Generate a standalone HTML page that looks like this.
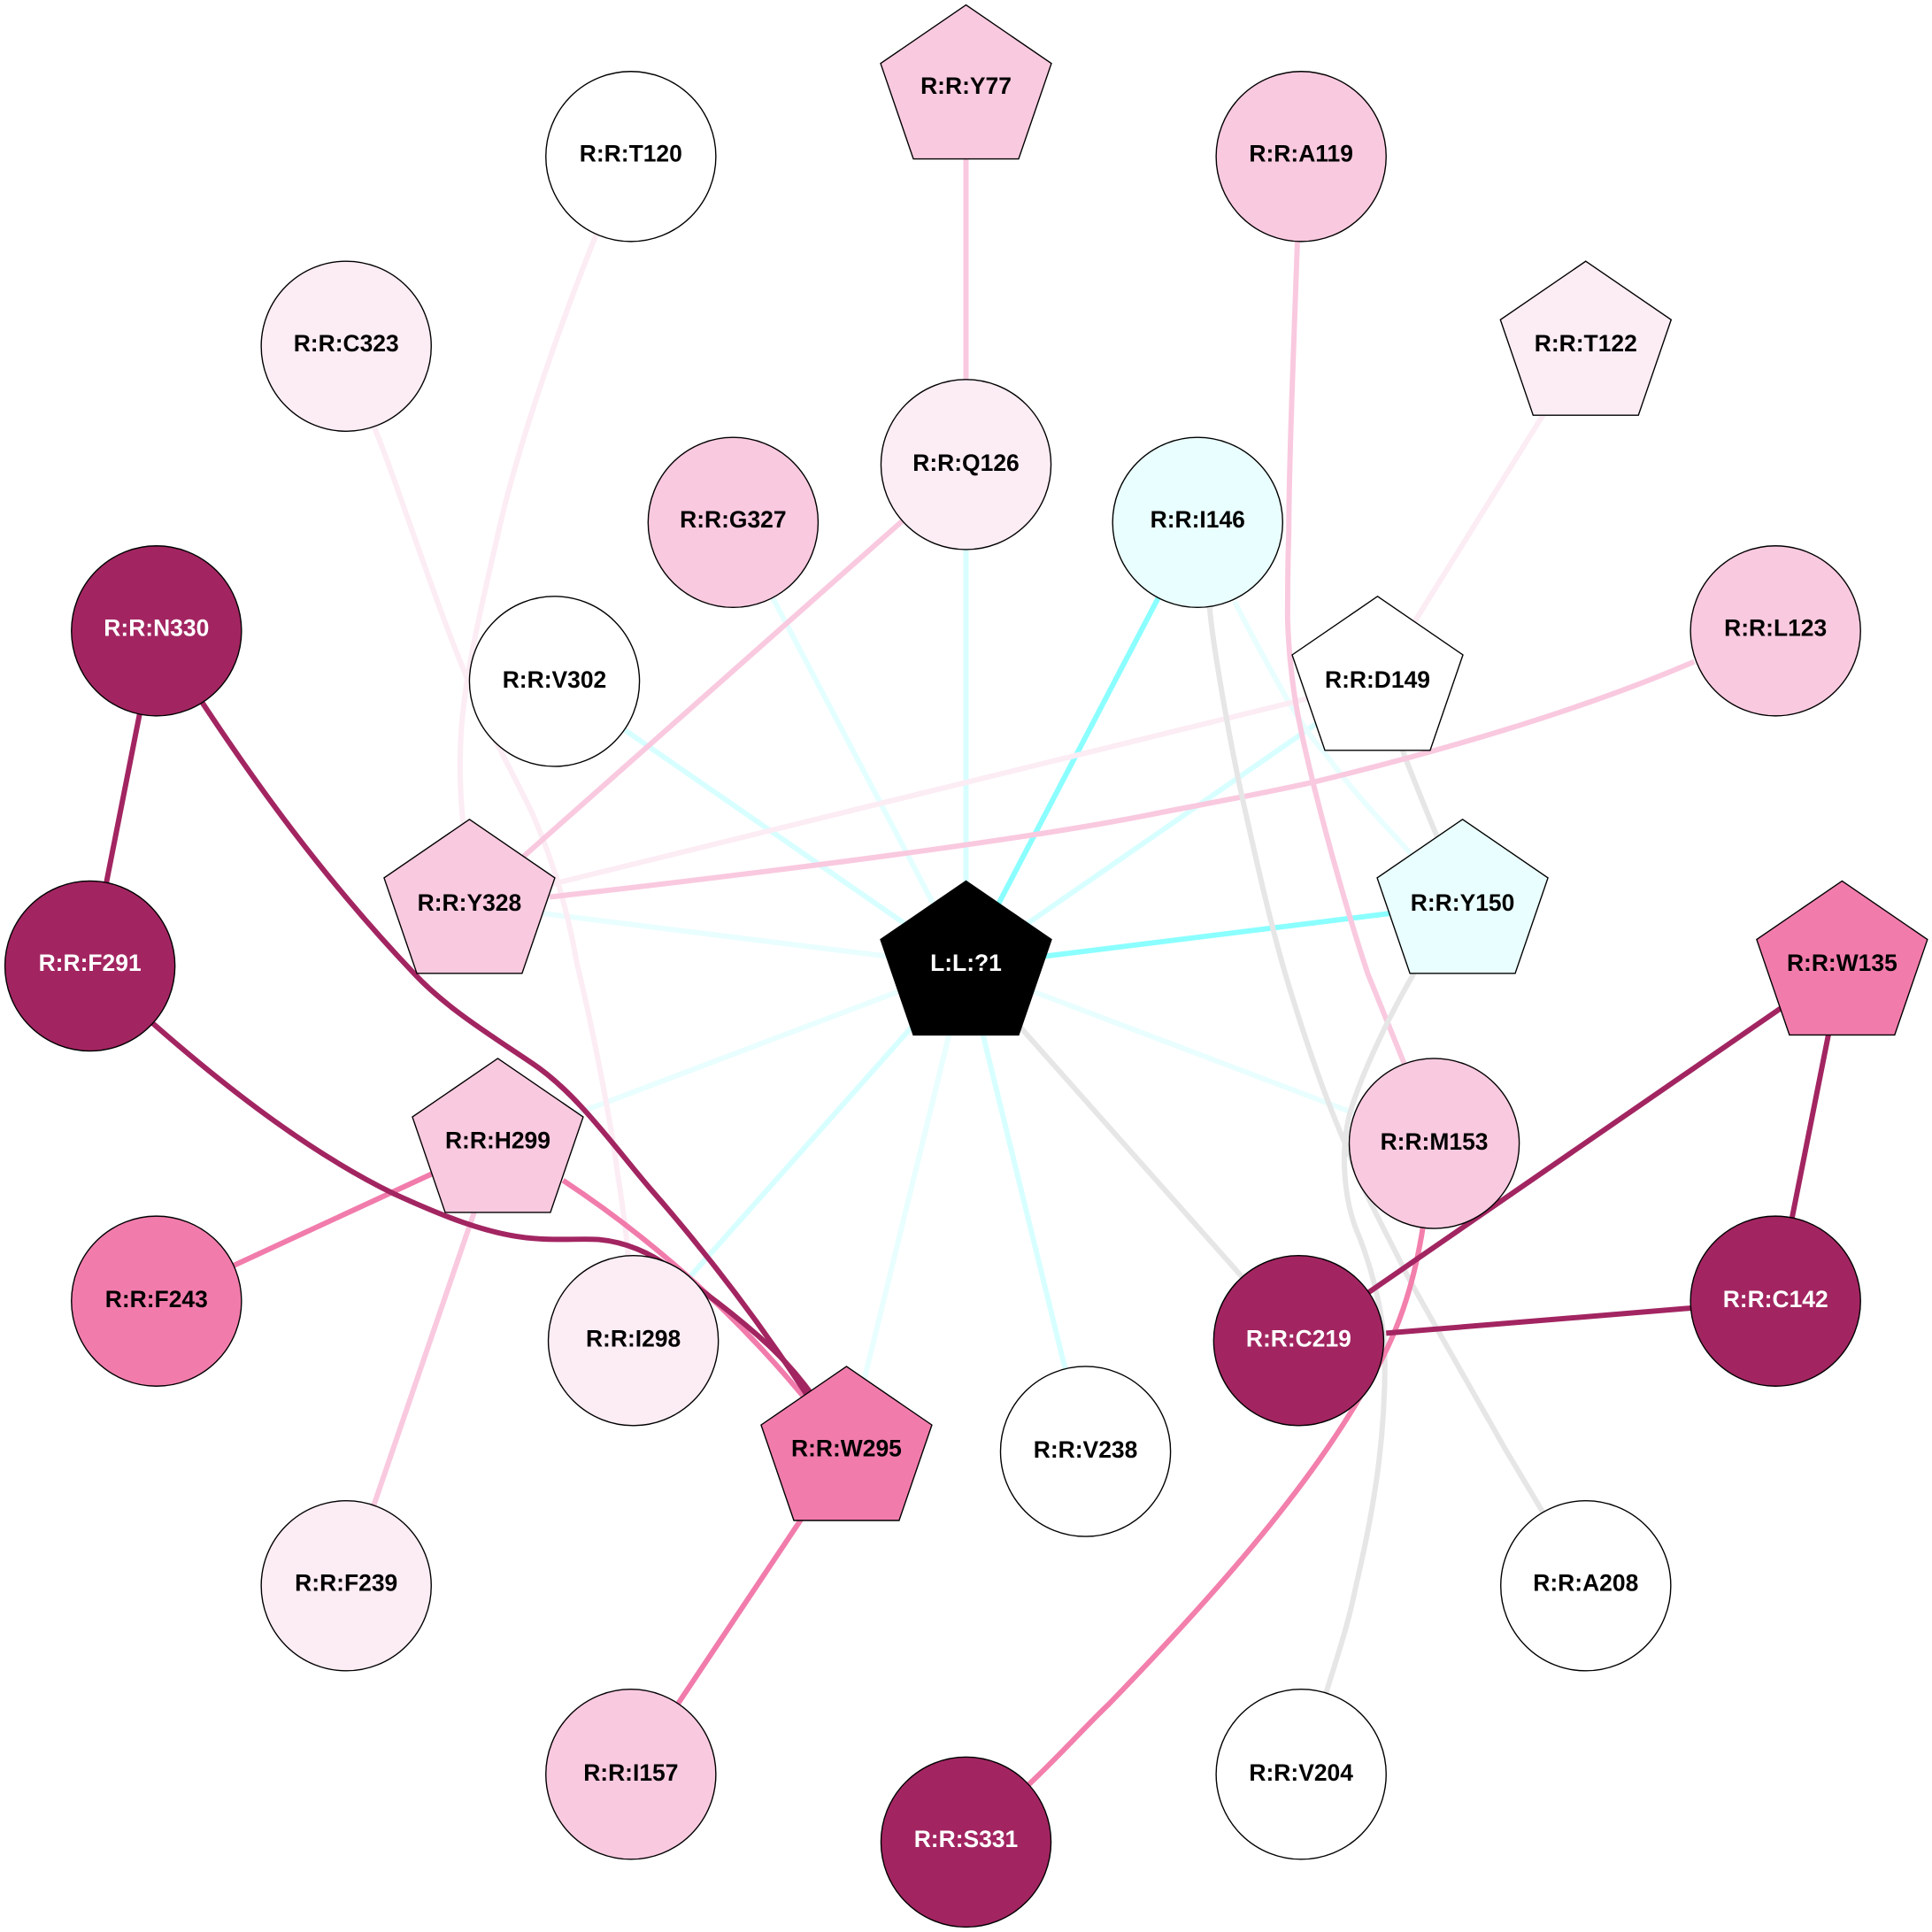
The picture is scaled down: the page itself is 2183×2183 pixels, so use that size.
<!DOCTYPE html>
<html><head><meta charset="utf-8"><style>
html,body{margin:0;padding:0;background:#fff}
svg{display:block}
text{font-family:"Liberation Sans",Arial,sans-serif;font-weight:bold;font-size:19px;text-anchor:middle}
.e{fill:none;stroke-width:4.3}
.n{stroke:#000;stroke-width:1}
</style></head><body>
<svg width="2183" height="2183" viewBox="0 0 1568 1568" xmlns="http://www.w3.org/2000/svg">
<rect width="1568" height="1568" fill="#fff"/>
<defs><polygon id="p" points="0,-69 69.3,-21.5 42.7,56 -42.7,56 -69.3,-21.5"/></defs>
<g class="edges">
<path class="e" stroke="#d8ffff" d="M784 377L784 784"/>
<path class="e" stroke="#e4ffff" d="M595 424L784 784"/>
<path class="e" stroke="#d8ffff" d="M450 553L784 784"/>
<path class="e" stroke="#e9fefe" d="M381 734L784 784"/>
<path class="e" stroke="#e9fefe" d="M404 928L784 784"/>
<path class="e" stroke="#d8ffff" d="M514 1088L784 784"/>
<path class="e" stroke="#e9fefe" d="M687 1178L784 784"/>
<path class="e" stroke="#d8ffff" d="M881 1178L784 784"/>
<path class="e" stroke="#e6e6e6" d="M1054 1088L784 784"/>
<path class="e" stroke="#e9fefe" d="M1164 928L784 784"/>
<path class="e" stroke="#8bffff" d="M1187 734L784 784"/>
<path class="e" stroke="#8bffff" d="M972 424L784 784"/>
<path class="e" stroke="#d8ffff" d="M1118 553L784 784"/>
<path class="e" stroke="#e9fefe" d="M1002 488C1015 515 1035 550 1046 570C1055 585 1065 600 1075 611C1100 645 1120 665 1145 693"/>
<path class="e" stroke="#e6e6e6" d="M1136 603Q1150 640 1168 683"/>
<path class="e" stroke="#fcecf4" d="M1287 281L1118 553"/>
<path class="e" stroke="#fcecf4" d="M1118 553L381 734"/>
<path class="e" stroke="#fcecf4" d="M484 190C440 300 415 385 404.7 431C390 495 374 560 373.6 611C373 630 374 650 376 670"/>
<path class="e" stroke="#fcecf4" d="M303 345C320 385 350 480 378 548C395 590 415 625 431 658C450 700 462 745 468 781C480 830 495 905 501 951C505 975 508 1000 510 1020"/>
<path class="e" stroke="#f9c9df" d="M784 73L784 377"/>
<path class="e" stroke="#f9c9df" d="M784 377L381 734"/>
<path class="e" stroke="#f9c9df" d="M1375 537C1280 578 1160 612 1065 635C1020 645 975 653 934 661C840 680 650 705 446 728"/>
<path class="e" stroke="#f9c9df" d="M1053 195C1050 280 1046 380 1046 431C1045 460 1045 490 1045 503C1047 560 1056 595 1065.5 634.5C1078 685 1095 745 1110 790L1140 864"/>
<path class="e" stroke="#f9c9df" d="M404 928L281 1287"/>
<path class="e" stroke="#f17cac" d="M404 928L127 1056"/>
<path class="e" stroke="#f17cac" d="M457 958C510 993 600 1060 687 1178"/>
<path class="e" stroke="#f17cac" d="M687 1178L512 1440"/>
<path class="e" stroke="#e6e6e6" d="M981.7 493C985 530 1000 610 1008 646.5C1020 700 1030 745 1043 790C1058 840 1075 890 1092.5 930C1105 965 1125 1000 1142 1035C1160 1068 1190 1120 1221 1175L1255 1232"/>
<path class="e" stroke="#e6e6e6" d="M1147.5 790C1130 820 1105 870 1095 905.5C1088 935 1090 975 1103.5 1004.5C1115 1035 1124 1070 1124 1106C1124 1170 1115 1225 1100.7 1286C1094 1320 1085 1345 1075 1378"/>
<path class="e" stroke="#f27fac" d="M1155 995C1148 1040 1135 1085 1106 1130C1060 1210 985 1295 900 1383C880 1402 860 1425 830 1453"/>
<path class="e" stroke="#a22561" d="M127 510L73 784"/>
<path class="e" stroke="#a22561" d="M164 570C205 632 260 710 336 790C362 818 398 840 432 863C468 887 498 930 528 965C570 1013 615 1070 660 1140"/>
<path class="e" stroke="#a22561" d="M120 827C180 880 250 935 320 969C355 985 395 1002 432 1005C452 1007 470 1005 486 1006C508 1008 528 1017 544 1029C568 1046 597 1067 624 1092C640 1107 655 1125 668 1145"/>
<path class="e" stroke="#a22561" d="M1495 784L1054 1088"/>
<path class="e" stroke="#a22561" d="M1495 784L1441 1056"/>
<path class="e" stroke="#a22561" d="M1125 1082L1441 1056"/>
</g>
<g class="n">
<circle cx="512" cy="127" r="69" fill="#ffffff"/>
<circle cx="1056" cy="127" r="69" fill="#f9c9df"/>
<circle cx="281" cy="281" r="69" fill="#fcecf4"/>
<circle cx="784" cy="377" r="69" fill="#fcecf4"/>
<circle cx="595" cy="424" r="69" fill="#f9c9df"/>
<circle cx="972" cy="424" r="69" fill="#e9fefe"/>
<circle cx="127" cy="512" r="69" fill="#a22561"/>
<circle cx="1441" cy="512" r="69" fill="#f9c9df"/>
<circle cx="450" cy="553" r="69" fill="#ffffff"/>
<circle cx="73" cy="784" r="69" fill="#a22561"/>
<circle cx="1164" cy="928" r="69" fill="#f9c9df"/>
<circle cx="127" cy="1056" r="69" fill="#f17cac"/>
<circle cx="514" cy="1088" r="69" fill="#fcecf4"/>
<circle cx="1054" cy="1088" r="69" fill="#a22561"/>
<circle cx="1441" cy="1056" r="69" fill="#a22561"/>
<circle cx="881" cy="1178" r="69" fill="#ffffff"/>
<circle cx="281" cy="1287" r="69" fill="#fcecf4"/>
<circle cx="1287" cy="1287" r="69" fill="#ffffff"/>
<circle cx="512" cy="1440" r="69" fill="#f9c9df"/>
<circle cx="1056" cy="1440" r="69" fill="#ffffff"/>
<circle cx="784" cy="1495" r="69" fill="#a22561"/>
<use href="#p" x="784" y="73" fill="#f9c9df"/>
<use href="#p" x="1287" y="281" fill="#fcecf4"/>
<use href="#p" x="1118" y="553" fill="#ffffff"/>
<use href="#p" x="381" y="734" fill="#f9c9df"/>
<use href="#p" x="1187" y="734" fill="#e9fefe"/>
<use href="#p" x="1495" y="784" fill="#f17cac"/>
<use href="#p" x="404" y="928" fill="#f9c9df"/>
<use href="#p" x="687" y="1178" fill="#f17cac"/>
<use href="#p" x="784" y="784" fill="#000000"/>
</g>
<g fill="#000">
<text x="784" y="76">R:R:Y77</text>
<text x="512" y="131">R:R:T120</text>
<text x="1056" y="131">R:R:A119</text>
<text x="1287" y="285">R:R:T122</text>
<text x="281" y="285">R:R:C323</text>
<text x="784" y="382">R:R:Q126</text>
<text x="595" y="428">R:R:G327</text>
<text x="972" y="428">R:R:I146</text>
<text x="1441" y="516">R:R:L123</text>
<text x="450" y="558">R:R:V302</text>
<text x="1118" y="558">R:R:D149</text>
<text x="381" y="739">R:R:Y328</text>
<text x="1187" y="739">R:R:Y150</text>
<text x="1495" y="788">R:R:W135</text>
<text x="404" y="932">R:R:H299</text>
<text x="1164" y="933">R:R:M153</text>
<text x="127" y="1061">R:R:F243</text>
<text x="514" y="1093">R:R:I298</text>
<text x="687" y="1182">R:R:W295</text>
<text x="881" y="1183">R:R:V238</text>
<text x="281" y="1291">R:R:F239</text>
<text x="1287" y="1291">R:R:A208</text>
<text x="512" y="1445">R:R:I157</text>
<text x="1056" y="1445">R:R:V204</text>
</g>
<g fill="#fff">
<text x="784" y="788">L:L:?1</text>
<text x="127" y="516">R:R:N330</text>
<text x="73" y="788">R:R:F291</text>
<text x="1054" y="1093">R:R:C219</text>
<text x="1441" y="1061">R:R:C142</text>
<text x="784" y="1499">R:R:S331</text>
</g>
</svg>
</body></html>
